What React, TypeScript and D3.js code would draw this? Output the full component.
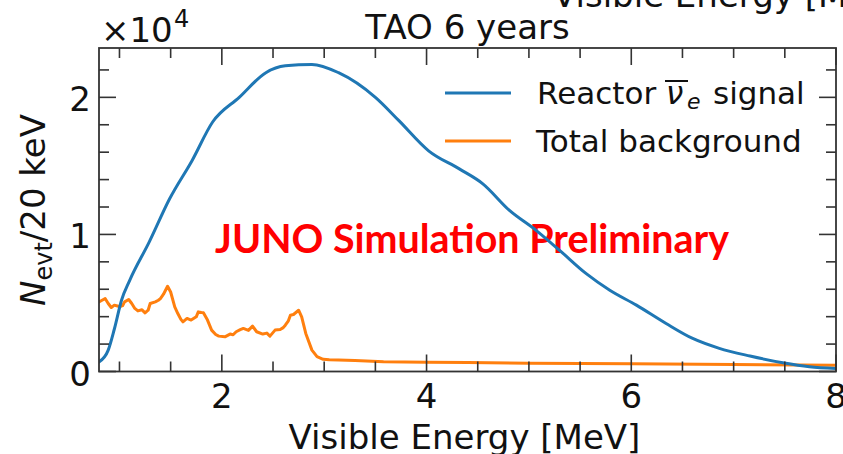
import React from 'react';
import * as d3 from 'd3';

// Reactor antineutrino signal spectrum (events per 20 keV) vs visible energy
const signalEnergy = [0.8, 0.89, 0.95, 1.02, 1.1, 1.29, 1.49, 1.71, 1.91, 2.17, 2.43, 2.62, 2.88, 3.14, 3.5, 3.73, 4.02, 4.32, 4.55, 4.81, 5.07, 5.3, 5.56, 5.79, 6.05, 6.34, 6.6, 6.86, 7.16, 7.48, 7.74, 8.0];
const signalCounts = [700, 1560, 3100, 5200, 6650, 9440, 12600, 15400, 18200, 20000, 21800, 22300, 22400, 21800, 20000, 18300, 16100, 14780, 13690, 11750, 10300, 8840, 7140, 5930, 4840, 3500, 2410, 1690, 1130, 640, 350, 220];

// Total background spectrum (events per 20 keV)
const bkgEnergy = [0.8, 0.83, 0.86, 0.89, 0.92, 0.95, 0.98, 1.0, 1.03, 1.05, 1.09, 1.12, 1.15, 1.18, 1.22, 1.25, 1.28, 1.3, 1.35, 1.38, 1.4, 1.43, 1.47, 1.5, 1.54, 1.57, 1.6, 1.62, 1.66, 1.7, 1.75, 1.77, 1.8, 1.82, 1.86, 1.9, 1.94, 1.97, 2.03, 2.08, 2.11, 2.14, 2.18, 2.21, 2.26, 2.3, 2.34, 2.4, 2.44, 2.47, 2.52, 2.57, 2.6, 2.62, 2.65, 2.67, 2.7, 2.75, 2.78, 2.82, 2.88, 2.93, 2.99, 3.05, 3.14, 3.3, 3.58, 4.0, 4.4, 5.0, 6.0, 7.0, 8.0];
const bkgCounts = [5080, 5200, 5320, 4960, 4670, 4840, 4780, 4710, 4800, 5080, 5250, 4960, 4600, 4420, 4500, 4280, 4470, 4960, 5080, 5200, 5320, 5640, 6220, 5800, 4710, 4230, 3800, 3620, 3870, 3750, 3990, 4350, 4300, 4280, 3750, 3020, 2700, 2580, 2530, 2730, 2680, 2900, 3050, 3140, 3000, 3310, 2900, 2730, 2800, 2580, 3020, 3060, 3200, 3380, 3700, 4110, 4160, 4470, 3990, 2780, 1560, 1080, 890, 860, 840, 800, 720, 680, 650, 610, 560, 510, 460];

const xMajorTicks = [2, 4, 6, 8];
const yMajorTicks = [0, 10000, 20000];
const yTickLabels = ['0', '1', '2'];
const legendItems = ['Reactor', 'Total background'];

const W = 843;
const H = 454;
const left = 99;
const right = 836;
const top = 48;
const bottom = 371.5;

const BLUE = '#1f77b4';
const ORANGE = '#ff7f0e';
const AXIS = '#333333';
const FONT = 'DejaVu Sans';

export default function App() {
  const x = d3.scaleLinear().domain([0.8, 8]).range([left, right]);
  const y = d3.scaleLinear().domain([0, 23600]).range([bottom, top]);

  const signalLine = d3
    .line<number>()
    .x((_, i) => x(signalEnergy[i]))
    .y((d) => y(d))
    .curve(d3.curveMonotoneX);
  const bkgLine = d3
    .line<number>()
    .x((_, i) => x(bkgEnergy[i]))
    .y((d) => y(d));

  const xMinor = d3.range(1, 8, 0.5).filter((v) => !xMajorTicks.includes(v));
  const yMinor = d3.range(0, 23600, 2000).filter((v) => !yMajorTicks.includes(v));

  const majorLen = 17;
  const minorLen = 10;

  return (
    <svg
      width={W}
      height={H}
      style={{ position: 'absolute', left: 0, top: 0, background: '#fff' }}
      fontFamily={FONT}
    >
      <defs>
        <clipPath id="plotArea">
          <rect x={left} y={top} width={right - left} height={bottom - top} />
        </clipPath>
      </defs>

      {/* x label of the panel above, cut by the top edge */}
      <text x={553} y={7} fontSize={34} fill="#111">Visible Energy [MeV]</text>

      {/* exponent and title */}
      <text x={101} y={42} fontSize={34} fill="#111">
        ×10
      </text>
      <text x={174} y={27} fontSize={24} fill="#111">4</text>
      <text x={(left + right) / 2} y={39} fontSize={34} textAnchor="middle" fill="#111">
        TAO 6 years
      </text>

      {/* overlay label */}
      <text
        x={215}
        y={253}
        fontFamily="Lato"
        fontWeight="bold"
        fontSize={40}
        fill="#ff0000"
        textLength={514}
        lengthAdjust="spacingAndGlyphs"
      >
        JUNO Simulation Preliminary
      </text>

      {/* data */}
      <g clipPath="url(#plotArea)" fill="none" strokeLinejoin="round" strokeLinecap="round">
        <path d={bkgLine(bkgCounts) || ''} stroke={ORANGE} strokeWidth={3} />
        <path d={signalLine(signalCounts) || ''} stroke={BLUE} strokeWidth={3} />
      </g>

      {/* frame */}
      <rect x={left} y={top} width={right - left} height={bottom - top} fill="none" stroke={AXIS} strokeWidth={1.8} />

      {/* inward ticks on all four sides */}
      <g stroke={AXIS} strokeWidth={1.6}>
        {xMajorTicks.map((v) => (
          <g key={'xM' + v}>
            <line x1={x(v)} x2={x(v)} y1={bottom} y2={bottom - majorLen} />
            <line x1={x(v)} x2={x(v)} y1={top} y2={top + majorLen} />
          </g>
        ))}
        {xMinor.map((v) => (
          <g key={'xm' + v}>
            <line x1={x(v)} x2={x(v)} y1={bottom} y2={bottom - minorLen} />
            <line x1={x(v)} x2={x(v)} y1={top} y2={top + minorLen} />
          </g>
        ))}
        {yMajorTicks.map((v) => (
          <g key={'yM' + v}>
            <line x1={left} x2={left + majorLen} y1={y(v)} y2={y(v)} />
            <line x1={right} x2={right - majorLen} y1={y(v)} y2={y(v)} />
          </g>
        ))}
        {yMinor.map((v) => (
          <g key={'ym' + v}>
            <line x1={left} x2={left + minorLen} y1={y(v)} y2={y(v)} />
            <line x1={right} x2={right - minorLen} y1={y(v)} y2={y(v)} />
          </g>
        ))}
      </g>

      {/* tick labels */}
      {xMajorTicks.map((v) => (
        <text key={'xl' + v} x={x(v)} y={408} fontSize={34} textAnchor="middle" fill="#111">
          {v}
        </text>
      ))}
      {yMajorTicks.map((v, i) => (
        <text key={'yl' + v} x={91} y={y(v) + 14} fontSize={34} textAnchor="end" fill="#111">
          {yTickLabels[i]}
        </text>
      ))}

      {/* axis labels */}
      <text x={(left + right) / 2 - 3} y={449} fontSize={34} textAnchor="middle" fill="#111">
        Visible Energy [MeV]
      </text>
      <text transform="translate(45,210) rotate(-90)" fontSize={34} textAnchor="middle" fill="#111">
        <tspan fontStyle="italic">N</tspan>
        <tspan fontSize={24} dy={7}>evt</tspan>
        <tspan dy={-7}>/20 keV</tspan>
      </text>

      {/* legend */}
      <line x1={445} x2={511} y1={93} y2={93} stroke={BLUE} strokeWidth={3} />
      <line x1={445} x2={511} y1={141} y2={141} stroke={ORANGE} strokeWidth={3} />
      <text x={537} y={103.5} fontSize={31} fill="#111">{legendItems[0]}</text>
      <text x={666} y={103.5} fontSize={31} fontStyle="italic" fill="#111">ν</text>
      <line x1={665} x2={688} y1={81} y2={81} stroke="#111" strokeWidth={2} />
      <text x={687} y={109} fontSize={22} fontStyle="italic" fill="#111">e</text>
      <text x={713} y={103.5} fontSize={31} fill="#111">signal</text>
      <text x={536} y={151.5} fontSize={31} fill="#111">{legendItems[1]}</text>
    </svg>
  );
}
